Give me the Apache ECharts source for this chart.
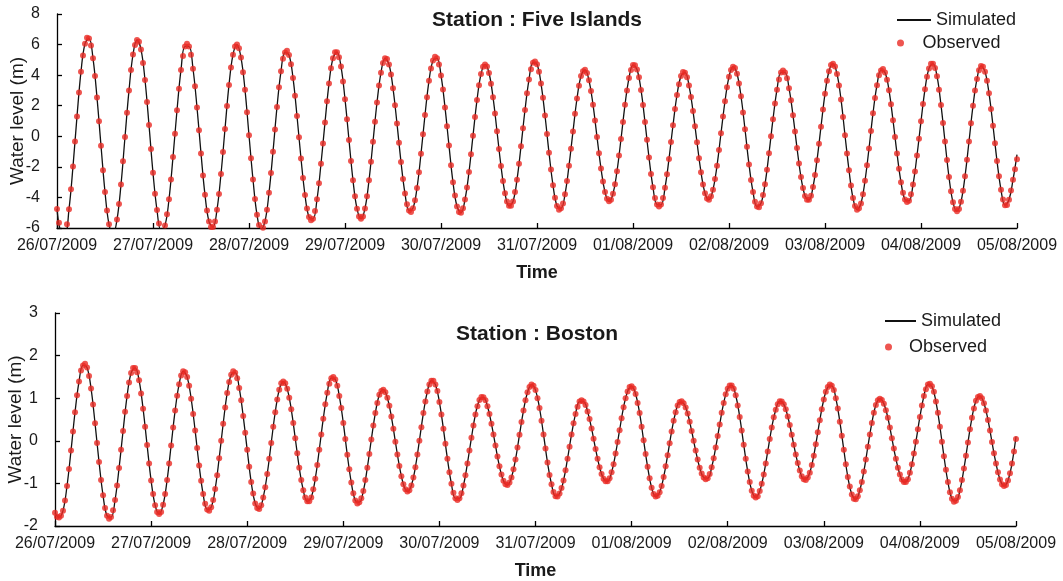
<!DOCTYPE html>
<html><head><meta charset="utf-8">
<script src="https://cdn.jsdelivr.net/npm/echarts/dist/echarts.min.js"></script>
<style>html,body{margin:0;padding:0;background:#fff}#chart{width:1063px;height:581px}</style>
</head><body><div id="chart"></div>
<script>
// ---- Data ----
const dateLabels = ['26/07/2009','27/07/2009','28/07/2009','29/07/2009','30/07/2009','31/07/2009','01/08/2009','02/08/2009','03/08/2009','04/08/2009','05/08/2009'];
const hoursPerDay = 24;
const observedStepHours = 0.5;   // observed water level every 30 min from 26/07/2009 00:00
const simulatedStepHours = 1;    // simulated water level every hour

const fiObserved = [-4.75,-5.65,-6.30,
-6.60,-6.40,-5.75,-4.77,-3.47,-1.97,-0.34,1.30,2.86,4.23,5.28,6.06,6.45,6.39,5.94,5.10,3.94,2.53,0.99,-0.62,-2.22,-3.64,-4.86,-5.76,-6.27,
-6.40,-6.08,-5.45,-4.43,-3.16,-1.64,-0.05,1.54,3.00,4.33,5.35,5.98,6.30,6.18,5.68,4.80,3.68,2.24,0.74,-0.83,-2.39,-3.76,-4.83,-5.70,-6.14,
-6.20,-5.83,-5.10,-4.12,-2.83,-1.36,0.17,1.70,3.11,4.34,5.25,5.87,6.05,5.87,5.33,4.42,3.28,1.89,0.39,-1.12,-2.57,-3.83,-4.86,-5.58,-5.94,
-5.94,-5.58,-4.80,-3.78,-2.46,-1.02,0.48,1.98,3.36,4.50,5.34,5.88,6.00,5.76,5.15,4.19,3.04,1.58,0.07,-1.44,-2.83,-4.10,-5.13,-5.80,-6.10,
-5.98,-5.57,-4.81,-3.70,-2.41,-1.01,0.45,1.91,3.20,4.25,5.07,5.48,5.60,5.32,4.71,3.82,2.66,1.33,-0.06,-1.45,-2.73,-3.84,-4.72,-5.28,-5.50,
-5.39,-4.89,-4.12,-3.07,-1.80,-0.47,0.91,2.29,3.45,4.45,5.11,5.49,5.50,5.17,4.56,3.58,2.43,1.12,-0.25,-1.62,-2.88,-3.92,-4.74,-5.24,
-5.40,-5.24,-4.72,-3.93,-2.88,-1.67,-0.36,0.95,2.21,3.32,4.16,4.79,5.10,5.05,4.70,4.04,3.14,2.03,0.83,-0.43,-1.68,-2.79,-3.74,-4.45,-4.85,
-4.95,-4.70,-4.19,-3.38,-2.36,-1.14,0.13,1.39,2.56,3.63,4.44,4.95,5.20,5.10,4.69,3.98,3.06,1.89,0.66,-0.61,-1.89,-3.01,-3.88,-4.59,-4.95,
-5.00,-4.71,-4.13,-3.35,-2.33,-1.17,0.04,1.26,2.37,3.34,4.07,4.55,4.70,4.56,4.14,3.44,2.56,1.49,0.33,-0.83,-1.95,-2.93,-3.72,-4.27,-4.55,
-4.55,-4.27,-3.65,-2.84,-1.80,-0.66,0.53,1.72,2.81,3.71,4.38,4.81,4.90,4.71,4.22,3.45,2.52,1.36,0.15,-1.07,-2.18,-3.20,-4.02,-4.56,-4.80,
-4.71,-4.39,-3.79,-2.92,-1.92,-0.82,0.32,1.47,2.47,3.30,3.94,4.26,4.35,4.14,3.66,2.97,2.07,1.04,-0.04,-1.11,-2.10,-2.96,-3.65,-4.08,-4.25,
-4.16,-3.76,-3.13,-2.28,-1.25,-0.18,0.94,2.06,3.00,3.81,4.34,4.66,4.65,4.37,3.86,3.03,2.05,0.93,-0.23,-1.39,-2.46,-3.34,-4.04,-4.46,
-4.60,-4.47,-4.03,-3.37,-2.49,-1.48,-0.38,0.72,1.78,2.70,3.41,3.94,4.20,4.16,3.87,3.32,2.57,1.65,0.65,-0.39,-1.44,-2.35,-3.15,-3.73,-4.07,
-4.15,-3.93,-3.50,-2.80,-1.93,-0.89,0.20,1.29,2.29,3.20,3.90,4.33,4.55,4.46,4.09,3.45,2.62,1.56,0.46,-0.69,-1.84,-2.86,-3.64,-4.28,-4.60,
-4.65,-4.38,-3.84,-3.13,-2.19,-1.11,0.00,1.12,2.15,3.05,3.72,4.17,4.30,4.17,3.79,3.15,2.35,1.37,0.31,-0.76,-1.78,-2.67,-3.39,-3.90,-4.16,
-4.16,-3.89,-3.31,-2.54,-1.56,-0.49,0.63,1.75,2.78,3.63,4.26,4.66,4.75,4.56,4.08,3.32,2.41,1.26,0.07,-1.12,-2.22,-3.22,-4.04,-4.56,-4.80,
-4.71,-4.39,-3.79,-2.91,-1.90,-0.80,0.35,1.50,2.51,3.34,3.99,4.31,4.40,4.18,3.70,3.01,2.09,1.05,-0.04,-1.12,-2.13,-3.00,-3.69,-4.13,-4.30,
-4.21,-3.80,-3.16,-2.30,-1.25,-0.16,0.98,2.12,3.07,3.89,4.44,4.75,4.75,4.46,3.93,3.05,2.04,0.87,-0.34,-1.55,-2.67,-3.59,-4.32,-4.75,-4.90,
-4.76,-4.28,-3.57,-2.62,-1.53,-0.34,0.85,1.99,2.99,3.75,4.32,4.60,4.55,4.23,3.63,2.81,1.79,0.69,-0.46,-1.61,-2.62,-3.50,-4.14,-4.51,
-4.50,-4.15,-3.55,-2.85,-2.15,-1.50];

const fiSimulated = [-4.75,-6.30,-6.40,-4.77,-1.97,1.30,4.23,6.06,6.39,5.10,2.53,-0.62,-3.64,-5.76,
-6.40,-5.45,-3.16,-0.05,3.00,5.35,6.30,5.68,3.68,0.74,-2.39,-4.83,-6.14,
-5.83,-4.12,-1.36,1.70,4.34,5.87,5.87,4.42,1.89,-1.12,-3.83,-5.58,
-5.94,-4.80,-2.46,0.48,3.36,5.34,6.00,5.15,3.04,0.07,-2.83,-5.13,-6.10,
-5.57,-3.70,-1.01,1.91,4.25,5.48,5.32,3.82,1.33,-1.45,-3.84,-5.28,
-5.39,-4.12,-1.80,0.91,3.45,5.11,5.50,4.56,2.43,-0.25,-2.88,-4.74,
-5.40,-4.72,-2.88,-0.36,2.21,4.16,5.10,4.70,3.14,0.83,-1.68,-3.74,-4.85,
-4.70,-3.38,-1.14,1.39,3.63,4.95,5.10,3.98,1.89,-0.61,-3.01,-4.59,
-5.00,-4.13,-2.33,0.04,2.37,4.07,4.70,4.14,2.56,0.33,-1.95,-3.72,-4.55,
-4.27,-2.84,-0.66,1.72,3.71,4.81,4.71,3.45,1.36,-1.07,-3.20,-4.56,
-4.71,-3.79,-1.92,0.32,2.47,3.94,4.35,3.66,2.07,-0.04,-2.10,-3.65,-4.25,
-3.76,-2.28,-0.18,2.06,3.81,4.66,4.37,3.03,0.93,-1.39,-3.34,-4.46,
-4.47,-3.37,-1.48,0.72,2.70,3.94,4.16,3.32,1.65,-0.39,-2.35,-3.73,
-4.15,-3.50,-1.93,0.20,2.29,3.90,4.55,4.09,2.62,0.46,-1.84,-3.64,-4.60,
-4.38,-3.13,-1.11,1.12,3.05,4.17,4.17,3.15,1.37,-0.76,-2.67,-3.90,
-4.16,-3.31,-1.56,0.63,2.78,4.26,4.75,4.08,2.41,0.07,-2.22,-4.04,-4.80,
-4.39,-2.91,-0.80,1.50,3.34,4.31,4.18,3.01,1.05,-1.12,-3.00,-4.13,
-4.21,-3.16,-1.25,0.98,3.07,4.44,4.75,3.93,2.04,-0.34,-2.67,-4.32,-4.90,
-4.28,-2.62,-0.34,1.99,3.75,4.60,4.23,2.81,0.69,-1.61,-3.50,-4.51,
-4.15,-2.85,-1.20];

const bostonObserved = [-1.69,-1.78,-1.80,
-1.76,-1.64,-1.40,-1.06,-0.66,-0.23,0.22,0.67,1.07,1.39,1.65,1.77,1.81,1.72,1.52,1.23,0.85,0.41,-0.05,-0.50,-0.92,-1.28,-1.58,-1.76,-1.83,
-1.79,-1.63,-1.39,-1.05,-0.64,-0.21,0.23,0.68,1.05,1.37,1.59,1.71,1.71,1.61,1.42,1.11,0.75,0.33,-0.10,-0.53,-0.93,-1.25,-1.51,-1.67,
-1.72,-1.67,-1.50,-1.25,-0.92,-0.53,-0.11,0.31,0.71,1.06,1.33,1.53,1.63,1.61,1.50,1.29,0.99,0.63,0.24,-0.17,-0.58,-0.94,-1.25,-1.48,-1.61,
-1.64,-1.56,-1.39,-1.13,-0.81,-0.41,0.00,0.40,0.78,1.12,1.38,1.55,1.63,1.60,1.47,1.24,0.95,0.58,0.19,-0.21,-0.61,-0.97,-1.24,-1.47,-1.58,
-1.60,-1.51,-1.33,-1.09,-0.78,-0.42,-0.05,0.33,0.67,0.97,1.20,1.35,1.39,1.35,1.22,1.01,0.74,0.42,0.06,-0.29,-0.63,-0.92,-1.16,-1.33,-1.42,
-1.42,-1.33,-1.14,-0.89,-0.57,-0.21,0.15,0.52,0.86,1.13,1.34,1.47,1.50,1.44,1.29,1.05,0.77,0.42,0.04,-0.33,-0.67,-0.98,-1.23,-1.40,-1.47,
-1.44,-1.35,-1.18,-0.92,-0.63,-0.31,0.03,0.36,0.65,0.89,1.08,1.17,1.20,1.14,1.01,0.82,0.57,0.28,-0.02,-0.32,-0.59,-0.83,-1.02,-1.14,-1.19,
-1.16,-1.05,-0.86,-0.62,-0.32,0.00,0.32,0.65,0.92,1.16,1.32,1.41,1.41,1.32,1.17,0.91,0.62,0.28,-0.07,-0.42,-0.74,-1.01,-1.22,-1.35,
-1.39,-1.35,-1.23,-1.05,-0.81,-0.53,-0.23,0.07,0.36,0.62,0.81,0.96,1.03,1.02,0.95,0.81,0.63,0.40,0.15,-0.11,-0.37,-0.60,-0.79,-0.94,-1.02,
-1.04,-0.98,-0.86,-0.67,-0.44,-0.16,0.14,0.44,0.71,0.95,1.14,1.26,1.32,1.29,1.19,1.00,0.77,0.47,0.15,-0.18,-0.51,-0.80,-1.02,-1.20,-1.30,
-1.31,-1.24,-1.11,-0.93,-0.69,-0.42,-0.14,0.15,0.41,0.63,0.80,0.92,0.95,0.92,0.84,0.69,0.51,0.29,0.05,-0.19,-0.42,-0.62,-0.78,-0.89,-0.95,
-0.95,-0.88,-0.74,-0.55,-0.30,-0.03,0.25,0.53,0.79,1.00,1.16,1.26,1.28,1.23,1.10,0.89,0.65,0.33,0.01,-0.31,-0.61,-0.88,-1.10,-1.25,-1.31,
-1.29,-1.21,-1.06,-0.85,-0.60,-0.34,-0.06,0.22,0.47,0.67,0.83,0.91,0.93,0.88,0.78,0.64,0.45,0.23,0.00,-0.23,-0.44,-0.63,-0.77,-0.86,-0.90,
-0.88,-0.78,-0.62,-0.41,-0.16,0.11,0.38,0.66,0.89,1.09,1.22,1.30,1.30,1.22,1.07,0.83,0.56,0.24,-0.09,-0.42,-0.72,-0.97,-1.17,-1.29,
-1.33,-1.30,-1.18,-1.01,-0.79,-0.53,-0.25,0.04,0.31,0.55,0.73,0.86,0.93,0.92,0.86,0.74,0.57,0.37,0.14,-0.09,-0.32,-0.52,-0.70,-0.83,-0.90,
-0.92,-0.86,-0.75,-0.57,-0.35,-0.08,0.20,0.48,0.74,0.97,1.15,1.26,1.32,1.29,1.19,1.00,0.76,0.45,0.12,-0.21,-0.55,-0.85,-1.07,-1.26,-1.36,
-1.37,-1.30,-1.16,-0.97,-0.72,-0.44,-0.14,0.15,0.42,0.66,0.84,0.95,0.99,0.96,0.87,0.72,0.54,0.31,0.06,-0.18,-0.42,-0.63,-0.79,-0.91,-0.97,
-0.97,-0.90,-0.75,-0.55,-0.30,-0.02,0.27,0.56,0.83,1.05,1.21,1.32,1.34,1.28,1.15,0.92,0.66,0.33,-0.02,-0.36,-0.68,-0.97,-1.21,-1.36,-1.43,
-1.41,-1.32,-1.16,-0.92,-0.65,-0.35,-0.04,0.27,0.54,0.76,0.94,1.03,1.05,1.00,0.88,0.71,0.49,0.24,-0.03,-0.29,-0.53,-0.74,-0.91,-1.02,-1.06,
-1.04,-0.93,-0.76,-0.53,-0.25,0.04];

const bostonSimulated = [-1.69,-1.80,-1.64,-1.06,-0.23,0.67,1.39,1.77,1.72,1.23,0.41,-0.50,-1.28,-1.76,
-1.79,-1.39,-0.64,0.23,1.05,1.59,1.71,1.42,0.75,-0.10,-0.93,-1.51,
-1.72,-1.50,-0.92,-0.11,0.71,1.33,1.63,1.50,0.99,0.24,-0.58,-1.25,-1.61,
-1.56,-1.13,-0.41,0.40,1.12,1.55,1.60,1.24,0.58,-0.21,-0.97,-1.47,
-1.60,-1.33,-0.78,-0.05,0.67,1.20,1.39,1.22,0.74,0.06,-0.63,-1.16,-1.42,
-1.33,-0.89,-0.21,0.52,1.13,1.47,1.44,1.05,0.42,-0.33,-0.98,-1.40,
-1.44,-1.18,-0.63,0.03,0.65,1.08,1.20,1.01,0.57,-0.02,-0.59,-1.02,-1.19,
-1.05,-0.62,0.00,0.65,1.16,1.41,1.32,0.91,0.28,-0.42,-1.01,-1.35,
-1.35,-1.05,-0.53,0.07,0.62,0.96,1.02,0.81,0.40,-0.11,-0.60,-0.94,
-1.04,-0.86,-0.44,0.14,0.71,1.14,1.32,1.19,0.77,0.15,-0.51,-1.02,-1.30,
-1.24,-0.93,-0.42,0.15,0.63,0.92,0.92,0.69,0.29,-0.19,-0.62,-0.89,
-0.95,-0.74,-0.30,0.25,0.79,1.16,1.28,1.10,0.65,0.01,-0.61,-1.10,-1.31,
-1.21,-0.85,-0.34,0.22,0.67,0.91,0.88,0.64,0.23,-0.23,-0.63,-0.86,
-0.88,-0.62,-0.16,0.38,0.89,1.22,1.30,1.07,0.56,-0.09,-0.72,-1.17,
-1.33,-1.18,-0.79,-0.25,0.31,0.73,0.93,0.86,0.57,0.14,-0.32,-0.70,-0.90,
-0.86,-0.57,-0.08,0.48,0.97,1.26,1.29,1.00,0.45,-0.21,-0.85,-1.26,
-1.37,-1.16,-0.72,-0.14,0.42,0.84,0.99,0.87,0.54,0.06,-0.42,-0.79,-0.97,
-0.90,-0.55,-0.02,0.56,1.05,1.32,1.28,0.92,0.33,-0.36,-0.97,-1.36,
-1.41,-1.16,-0.65,-0.04,0.54,0.94,1.05,0.88,0.49,-0.03,-0.53,-0.91,-1.06,
-0.93,-0.53,0.10];

// ---- Chart ----
const FONT = "'Liberation Sans', Arial, Helvetica, sans-serif";
const TEXT = '#1a1a1a';
const toPairs = (values, step) => values.map((v, i) => [i * step, v]);

function makeXAxis(gridIndex) {
  return {
    type: 'value', gridIndex, min: 0, max: hoursPerDay * (dateLabels.length - 1), interval: hoursPerDay,
    name: 'Time', nameLocation: 'middle', nameGap: 36,
    nameTextStyle: { fontFamily: FONT, fontSize: 18, fontWeight: 'bold', color: TEXT },
    axisLine: { show: true, onZero: false, lineStyle: { color: '#000', width: 1.3 } },
    axisTick: { show: true, inside: true, length: 5, lineStyle: { color: '#000', width: 1.3 } },
    axisLabel: { fontFamily: FONT, fontSize: 16, color: TEXT, margin: 10, showMinLabel: true, showMaxLabel: true,
      formatter: v => dateLabels[Math.round(v / hoursPerDay)] || '' },
    splitLine: { show: false }
  };
}
function makeYAxis(gridIndex, min, max, interval) {
  return {
    type: 'value', gridIndex, min, max, interval,
    name: 'Water level (m)', nameLocation: 'middle', nameGap: 30, nameMoveOverlap: false,
    nameTextStyle: { fontFamily: FONT, fontSize: 19, color: TEXT },
    axisLine: { show: true, onZero: false, lineStyle: { color: '#000', width: 1.3 } },
    axisTick: { show: true, inside: true, length: 5, lineStyle: { color: '#000', width: 1.3 } },
    axisLabel: { fontFamily: FONT, fontSize: 16, color: TEXT, margin: 17 },
    splitLine: { show: false }
  };
}
const legendText = { fontFamily: FONT, fontSize: 18, color: TEXT };
const LINE_COLOR = '#111111';
const DOT_COLOR = '#ea2a24';

const chart = echarts.init(document.getElementById('chart'), null, { renderer: 'canvas' });
chart.setOption({
  animation: false,
  backgroundColor: '#ffffff',
  title: [
    { text: 'Station : Five Islands', left: 432, top: 10, padding: 0,
      textStyle: { fontFamily: FONT, fontSize: 21, fontWeight: 'bold', color: TEXT } },
    { text: 'Station : Boston', left: 456, top: 324, padding: 0,
      textStyle: { fontFamily: FONT, fontSize: 21, fontWeight: 'bold', color: TEXT } }
  ],
  legend: [
    { data: ['Simulated'], left: 897, top: 11, padding: 0, itemWidth: 34, itemHeight: 2, icon: 'rect', selectedMode: false, textStyle: legendText },
    { data: ['Observed'], left: 897, top: 34, padding: 0, itemWidth: 34, itemHeight: 7, icon: 'circle', selectedMode: false, textStyle: legendText },
    { data: ['Simulated'], left: 885, top: 312, padding: 0, itemWidth: 31, itemHeight: 2, icon: 'rect', selectedMode: false, textStyle: legendText },
    { data: ['Observed'], left: 885, top: 338, padding: 0, itemWidth: 31, itemHeight: 7, icon: 'circle', selectedMode: false, textStyle: legendText }
  ],
  grid: [
    { left: 57, right: 46, top: 14, height: 214, outerBoundsMode: 'none', containLabel: false },
    { left: 55, right: 47, top: 313, height: 213, outerBoundsMode: 'none', containLabel: false }
  ],
  xAxis: [makeXAxis(0), makeXAxis(1)],
  yAxis: [makeYAxis(0, -6, 8, 2), makeYAxis(1, -2, 3, 1)],
  series: [
    { name: 'Simulated', type: 'line', xAxisIndex: 0, yAxisIndex: 0, data: toPairs(fiSimulated, simulatedStepHours),
      showSymbol: false, smooth: 0.4, clip: true, lineStyle: { color: LINE_COLOR, width: 1.3 }, itemStyle: { color: LINE_COLOR }, z: 2, silent: true },
    { name: 'Observed', type: 'scatter', xAxisIndex: 0, yAxisIndex: 0, data: toPairs(fiObserved, observedStepHours),
      symbolSize: 6, clip: true, itemStyle: { color: DOT_COLOR }, z: 3, silent: true },
    { name: 'Simulated', type: 'line', xAxisIndex: 1, yAxisIndex: 1, data: toPairs(bostonSimulated, simulatedStepHours),
      showSymbol: false, smooth: 0.4, clip: true, lineStyle: { color: LINE_COLOR, width: 1.3 }, itemStyle: { color: LINE_COLOR }, z: 2, silent: true },
    { name: 'Observed', type: 'scatter', xAxisIndex: 1, yAxisIndex: 1, data: toPairs(bostonObserved, observedStepHours),
      symbolSize: 6, clip: true, itemStyle: { color: DOT_COLOR }, z: 3, silent: true }
  ]
});
</script></body></html>
